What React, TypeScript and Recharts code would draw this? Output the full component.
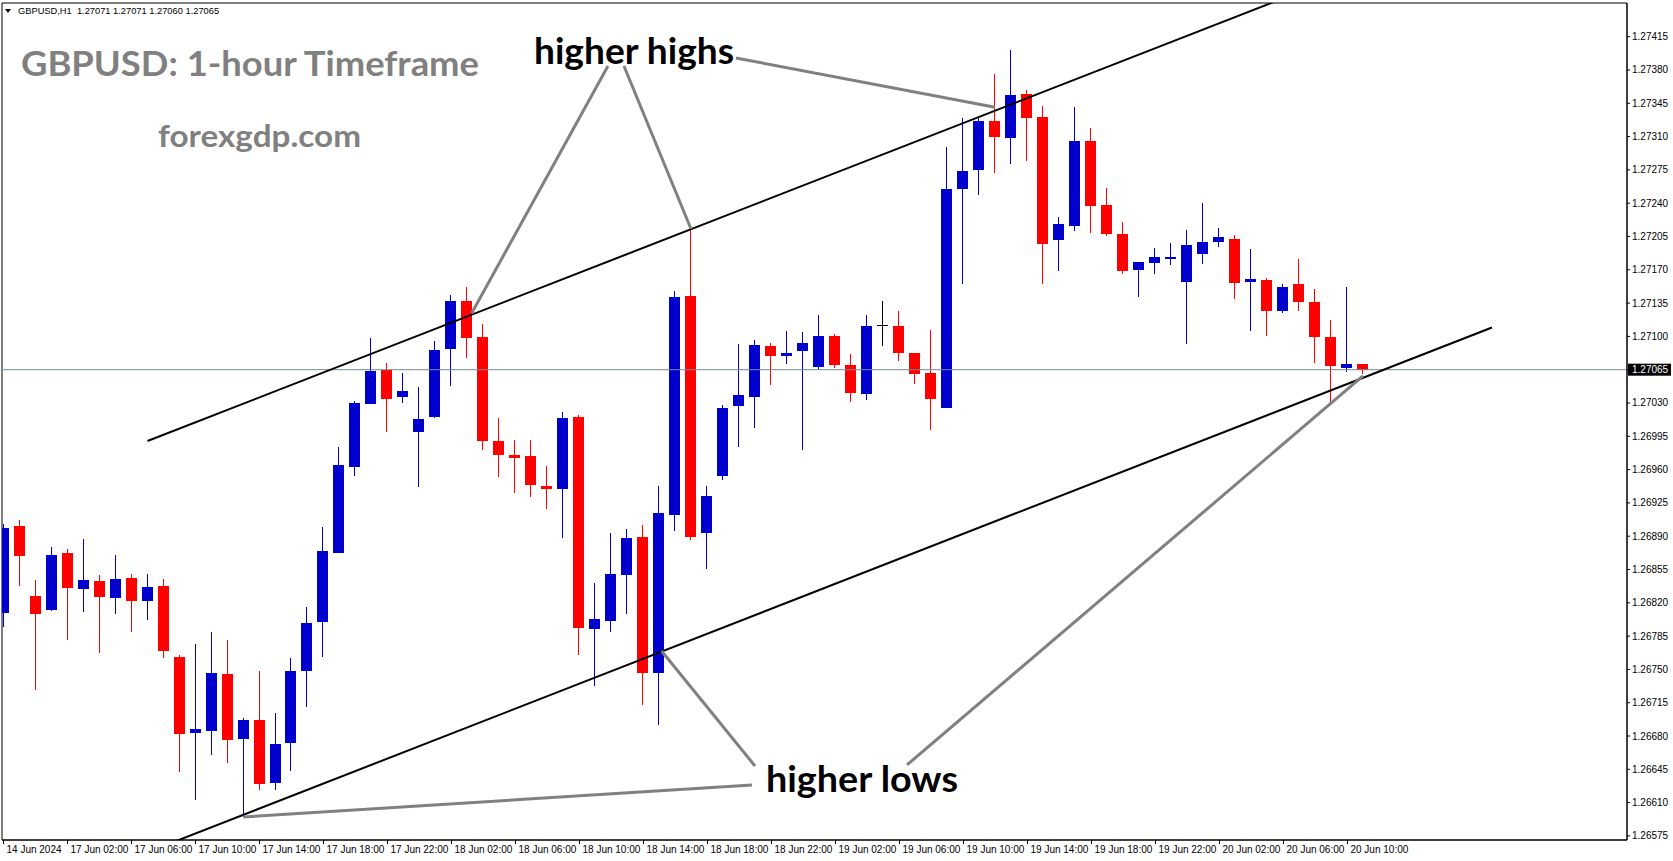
import React from 'react';
import { ComposedChart, Bar, XAxis, YAxis, ReferenceLine, ReferenceArea } from 'recharts';

document.body.style.margin = '0';

const W = 1673;
const H = 861;
const FONT = '"Liberation Sans", Arial, sans-serif';
const BIG_FONT = 'Lato, "Open Sans", sans-serif';

// GBPUSD H1 bars, 14 Jun 2024 22:00 .. 20 Jun 11:00
const opens = [
  1.26810, 1.26901, 1.26827, 1.26812, 1.26872, 1.26835, 1.26843, 1.26825, 1.26846, 1.26822,
  1.26838, 1.26763, 1.26683, 1.26685, 1.26745, 1.26677, 1.26697, 1.26631, 1.26672, 1.26749,
  1.26799, 1.26872, 1.26963, 1.27029, 1.27065, 1.27037, 1.26999, 1.27016, 1.27087, 1.27137,
  1.27099, 1.26990, 1.26975, 1.26974, 1.26943, 1.26939, 1.27015, 1.26793, 1.26801, 1.26849,
  1.26889, 1.26746, 1.26912, 1.27142, 1.26893, 1.26954, 1.27026, 1.27036, 1.27090, 1.27080,
  1.27085, 1.27067, 1.27100, 1.27070, 1.27040, 1.27112, 1.27111, 1.27083, 1.27062, 1.27025,
  1.27255, 1.27274, 1.27326, 1.27309, 1.27355, 1.27331, 1.27201, 1.27216, 1.27305, 1.27238,
  1.27208, 1.27170, 1.27177, 1.27181, 1.27157, 1.27186, 1.27199, 1.27202, 1.27157, 1.27159,
  1.27127, 1.27155, 1.27136, 1.27099, 1.27067, 1.27071,
];
const highs = [
  1.26903, 1.26907, 1.26844, 1.26879, 1.26877, 1.26887, 1.26849, 1.26870, 1.26850, 1.26850,
  1.26845, 1.26765, 1.26777, 1.26789, 1.26781, 1.26699, 1.26748, 1.26704, 1.26762, 1.26816,
  1.26900, 1.26984, 1.27032, 1.27098, 1.27072, 1.27062, 1.27047, 1.27095, 1.27144, 1.27152,
  1.27113, 1.27014, 1.26991, 1.26991, 1.26964, 1.27021, 1.27017, 1.26841, 1.26893, 1.26898,
  1.26902, 1.26943, 1.27148, 1.27215, 1.26943, 1.27028, 1.27092, 1.27096, 1.27093, 1.27106,
  1.27105, 1.27123, 1.27103, 1.27082, 1.27123, 1.27137, 1.27127, 1.27083, 1.27107, 1.27299,
  1.27330, 1.27332, 1.27376, 1.27401, 1.27359, 1.27342, 1.27226, 1.27341, 1.27319, 1.27256,
  1.27220, 1.27178, 1.27193, 1.27198, 1.27212, 1.27240, 1.27214, 1.27207, 1.27192, 1.27161,
  1.27155, 1.27181, 1.27150, 1.27117, 1.27152, 1.27071,
];
const lows = [
  1.26795, 1.26838, 1.26728, 1.26811, 1.26781, 1.26810, 1.26767, 1.26808, 1.26789, 1.26802,
  1.26762, 1.26642, 1.26613, 1.26660, 1.26652, 1.26595, 1.26623, 1.26623, 1.26643, 1.26711,
  1.26763, 1.26872, 1.26953, 1.27029, 1.26999, 1.27030, 1.26942, 1.27014, 1.27048, 1.27077,
  1.26981, 1.26952, 1.26935, 1.26931, 1.26919, 1.26888, 1.26765, 1.26733, 1.26789, 1.26808,
  1.26713, 1.26692, 1.26895, 1.26886, 1.26856, 1.26949, 1.26984, 1.27004, 1.27049, 1.27071,
  1.26981, 1.27065, 1.27067, 1.27031, 1.27033, 1.27090, 1.27074, 1.27050, 1.27002, 1.27025,
  1.27155, 1.27249, 1.27272, 1.27281, 1.27284, 1.27155, 1.27169, 1.27211, 1.27209, 1.27205,
  1.27166, 1.27141, 1.27166, 1.27175, 1.27092, 1.27176, 1.27194, 1.27139, 1.27106, 1.27100,
  1.27125, 1.27127, 1.27072, 1.27030, 1.27063, 1.27060,
];
const closes = [
  1.26899, 1.26869, 1.26808, 1.26870, 1.26835, 1.26844, 1.26826, 1.26845, 1.26822, 1.26837,
  1.26770, 1.26682, 1.26687, 1.26746, 1.26676, 1.26697, 1.26630, 1.26672, 1.26748, 1.26799,
  1.26874, 1.26965, 1.27030, 1.27064, 1.27035, 1.27043, 1.27013, 1.27086, 1.27137, 1.27098,
  1.26990, 1.26975, 1.26972, 1.26943, 1.26940, 1.27014, 1.26793, 1.26803, 1.26850, 1.26888,
  1.26746, 1.26914, 1.27141, 1.26889, 1.26932, 1.27025, 1.27038, 1.27091, 1.27080, 1.27083,
  1.27093, 1.27100, 1.27069, 1.27041, 1.27111, 1.27112, 1.27083, 1.27061, 1.27035, 1.27255,
  1.27274, 1.27326, 1.27309, 1.27354, 1.27330, 1.27197, 1.27218, 1.27305, 1.27237, 1.27208,
  1.27169, 1.27178, 1.27183, 1.27183, 1.27196, 1.27199, 1.27204, 1.27156, 1.27160, 1.27126,
  1.27152, 1.27136, 1.27099, 1.27069, 1.27071, 1.27065,
];

const xTicks = [0, 4, 8, 12, 16, 20, 24, 28, 32, 36, 40, 44, 48, 52, 56, 60, 64, 68, 72, 76, 80, 84];
const xTickLabels = [
  '14 Jun 2024', '17 Jun 02:00', '17 Jun 06:00', '17 Jun 10:00', '17 Jun 14:00', '17 Jun 18:00',
  '17 Jun 22:00', '18 Jun 02:00', '18 Jun 06:00', '18 Jun 10:00', '18 Jun 14:00', '18 Jun 18:00',
  '18 Jun 22:00', '19 Jun 02:00', '19 Jun 06:00', '19 Jun 10:00', '19 Jun 14:00', '19 Jun 18:00',
  '19 Jun 22:00', '20 Jun 02:00', '20 Jun 06:00', '20 Jun 10:00',
];
const priceTicks = [
  1.26575, 1.26610, 1.26645, 1.26680, 1.26715, 1.26750, 1.26785, 1.26820, 1.26855, 1.26890,
  1.26925, 1.26960, 1.26995, 1.27030, 1.27065, 1.27100, 1.27135, 1.27170, 1.27205, 1.27240,
  1.27275, 1.27310, 1.27345, 1.27380, 1.27415,
];
const currentPrice = 1.27065;

// channel and the pointer lines, in bar index / price
const upperChannel = [{ x: 9.0, y: 1.2699 }, { x: 80.0, y: 1.274554 }];
const lowerChannel = [{ x: 10.5, y: 1.265677 }, { x: 93.03, y: 1.271094 }];
const highPointers = [
  [{ x: 37.78, y: 1.273842 }, { x: 29.26, y: 1.271243 }],
  [{ x: 38.78, y: 1.273842 }, { x: 42.97, y: 1.272129 }],
  [{ x: 45.78, y: 1.273926 }, { x: 61.97, y: 1.273408 }],
];
const lowPointers = [
  [{ x: 46.78, y: 1.266286 }, { x: 15.0, y: 1.265949 }],
  [{ x: 46.97, y: 1.266485 }, { x: 41.13, y: 1.267694 }],
  [{ x: 56.47, y: 1.266496 }, { x: 84.97, y: 1.270584 }],
];

const X_DOMAIN: [number, number] = [-0.094, 101.47];
const Y_DOMAIN: [number, number] = [1.265707, 1.274504];

const candles = opens.map((o, i) => ({
  i,
  open: o,
  high: highs[i],
  low: lows[i],
  close: closes[i],
}));

const UP = '#0000CD';
const DOWN = '#FF0000';

function Candle(props: any) {
  const { x, y, width, height, payload } = props;
  if (x == null || !payload) return null;
  const cx = Math.round(x + width / 2 - 0.5) + 0.5;
  const top = Math.min(y, y + height);
  const bottom = Math.max(y, y + height);
  const range = payload.high - payload.low;
  const k = range > 0 ? (bottom - top) / range : 0;
  const yOf = (p: number) => top + (payload.high - p) * k;
  const color = payload.close > payload.open ? UP : payload.close < payload.open ? DOWN : '#000';
  const yO = yOf(payload.open);
  const yC = yOf(payload.close);
  const bTop = Math.round(Math.min(yO, yC));
  const bH = Math.max(1, Math.round(Math.abs(yO - yC)));
  return (
    <g>
      <line x1={cx} x2={cx} y1={Math.round(top)} y2={Math.round(bottom)} stroke={color} strokeWidth={1} />
      {payload.close === payload.open ? (
        <line x1={cx - 5.5} x2={cx + 5.5} y1={bTop + 0.5} y2={bTop + 0.5} stroke={color} strokeWidth={1} />
      ) : (
        <rect x={cx - 5.5} y={bTop} width={11} height={bH} fill={color} />
      )}
    </g>
  );
}

function XTick(props: any) {
  const { x, y, payload } = props;
  const label = xTickLabels[xTicks.indexOf(payload.value)] ?? '';
  return (
    <text x={x + 3} y={y + 9} fontSize={10} fontFamily={FONT} fill="#000">
      {label}
    </text>
  );
}

function YTick(props: any) {
  const { x, y, payload } = props;
  if (payload.value === currentPrice) return null;
  return (
    <text x={x} y={y + 3.5} fontSize={10} fontFamily={FONT} fill="#000">
      {Number(payload.value).toFixed(5)}
    </text>
  );
}

function PriceTag(props: any) {
  const vb = props.viewBox;
  if (!vb) return null;
  const right = vb.x + vb.width;
  return (
    <g>
      <rect x={right + 1} y={vb.y - 6} width={43} height={12} fill="#000" />
      <text x={right + 5} y={vb.y + 3.5} fontSize={10} fontFamily={FONT} fill="#fff">
        {currentPrice.toFixed(5)}
      </text>
    </g>
  );
}

export default function App() {
  const last = candles[candles.length - 1];
  const header = `GBPUSD,H1  ${last.open.toFixed(5)} ${last.high.toFixed(5)} ${last.low.toFixed(5)} ${last.close.toFixed(5)}`;
  return (
    <div style={{ position: 'relative', width: W, height: H, background: '#fff' }}>
      <ComposedChart width={W} height={H} data={candles} margin={{ top: 3, right: 0, bottom: 0, left: 2 }}>
        <XAxis
          dataKey="i"
          type="number"
          domain={X_DOMAIN}
          allowDataOverflow
          ticks={xTicks}
          interval={0}
          height={21}
          tickSize={4}
          tickMargin={0}
          axisLine={{ stroke: '#000' }}
          tickLine={{ stroke: '#000' }}
          tick={<XTick />}
        />
        <YAxis
          orientation="right"
          type="number"
          domain={Y_DOMAIN}
          allowDataOverflow
          ticks={priceTicks}
          interval={0}
          width={46}
          tickSize={3}
          tickMargin={2}
          axisLine={{ stroke: '#000' }}
          tickLine={{ stroke: '#000' }}
          tick={<YTick />}
        />
        <ReferenceArea
          x1={X_DOMAIN[0]}
          x2={X_DOMAIN[1]}
          y1={Y_DOMAIN[0]}
          y2={Y_DOMAIN[1]}
          fill="none"
          stroke="#000"
          strokeWidth={1}
          ifOverflow="visible"
        />
        <ReferenceLine y={currentPrice} stroke="#778899" strokeWidth={1} label={<PriceTag />} />
        <Bar
          dataKey={(d: any) => [d.low, d.high]}
          barSize={11}
          shape={<Candle />}
          isAnimationActive={false}
        />
        <ReferenceLine segment={upperChannel} stroke="#000" strokeWidth={2} ifOverflow="hidden" />
        <ReferenceLine segment={lowerChannel} stroke="#000" strokeWidth={2} ifOverflow="hidden" />
        {highPointers.map((seg, k) => (
          <ReferenceLine key={`h${k}`} segment={seg} stroke="#808080" strokeWidth={3} ifOverflow="hidden" />
        ))}
        {lowPointers.map((seg, k) => (
          <ReferenceLine key={`l${k}`} segment={seg} stroke="#808080" strokeWidth={3} ifOverflow="hidden" />
        ))}
      </ComposedChart>
      <svg
        width={W}
        height={H}
        style={{ position: 'absolute', left: 0, top: 0, pointerEvents: 'none' }}
      >
        <polygon points="5,9 11,9 8,13" fill="#000" />
        <text x={18} y={14} fontSize={9.3} fontFamily={FONT} fill="#000" style={{ whiteSpace: 'pre' }}>
          {header}
        </text>
        <text x={21} y={76} fontSize={34} fontWeight={700} fontFamily={BIG_FONT} fill="#808080" textLength={458} lengthAdjust="spacingAndGlyphs">
          GBPUSD: 1-hour Timeframe
        </text>
        <text x={158} y={147} fontSize={30} fontWeight={700} fontFamily={BIG_FONT} fill="#808080" textLength={203} lengthAdjust="spacingAndGlyphs">
          forexgdp.com
        </text>
        <text x={534} y={64} fontSize={36} fontWeight={700} fontFamily={BIG_FONT} fill="#000" textLength={200} lengthAdjust="spacingAndGlyphs">
          higher highs
        </text>
        <text x={766} y={792} fontSize={36} fontWeight={700} fontFamily={BIG_FONT} fill="#000" textLength={192} lengthAdjust="spacingAndGlyphs">
          higher lows
        </text>
      </svg>
    </div>
  );
}
